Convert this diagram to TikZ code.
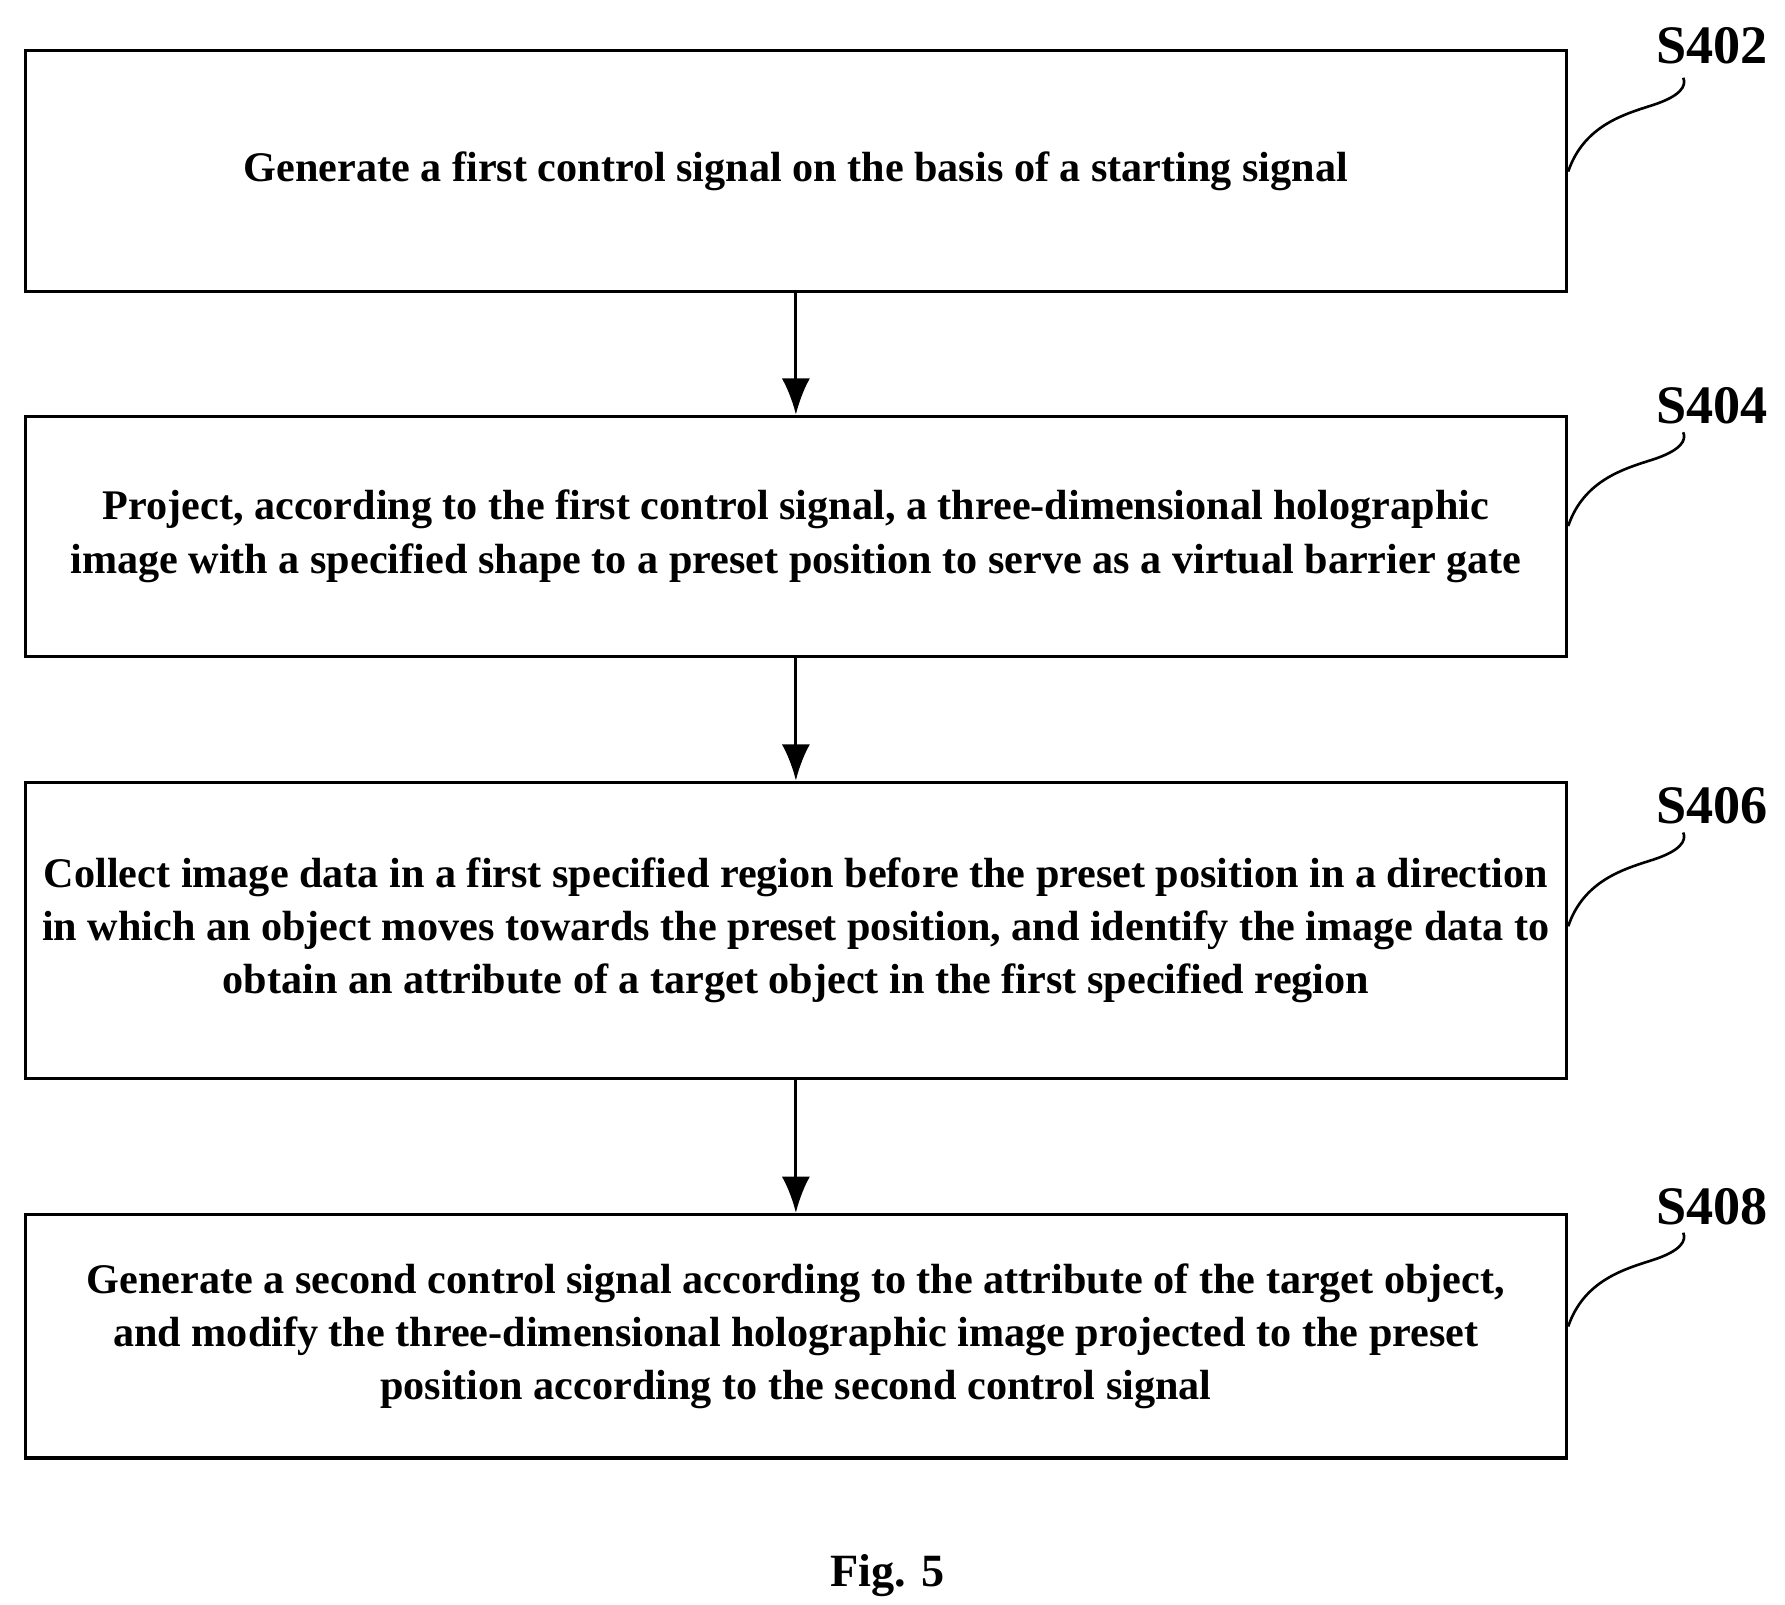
\documentclass[tikz,border=0pt]{standalone}
\usepackage{fontspec}
\setmainfont{Liberation Serif}
\begin{document}
\begin{tikzpicture}[x=0.02cm,y=-0.02cm,
 box/.style={draw,line width=1.6pt,minimum width=1348*0.02cm,align=center,font=\bfseries\fontsize{21}{26.5}\selectfont,inner sep=0pt},
 lab/.style={font=\bfseries\fontsize{27}{30}\selectfont},
 arr/.style={line width=1.6pt,-{Latex[length=18pt,width=14pt]}},
 sq/.style={line width=1.3pt}]
\usetikzlibrary{arrows.meta}
\useasboundingbox (0,0) rectangle (1561,1403);
\node[box,minimum height=211*0.02cm] (b1) at (696,149.5) {Generate a first control signal on the basis of a starting signal};
\node[box,minimum height=210*0.02cm] (b2) at (696,469) {Project, according to the first control signal, a three-dimensional holographic\\image with a specified shape to a preset position to serve as a virtual barrier gate};
\node[box,minimum height=259*0.02cm] (b3) at (696,813.5) {Collect image data in a first specified region before the preset position in a direction\\in which an object moves towards the preset position, and identify the image data to\\obtain an attribute of a target object in the first specified region};
\node[box,minimum height=213*0.02cm] (b4) at (696,1168.5) {Generate a second control signal according to the attribute of the target object,\\and modify the three-dimensional holographic image projected to the preset\\position according to the second control signal};
\draw[arr] (b1) -- (b2);
\draw[arr] (b2) -- (b3);
\draw[arr] (b3) -- (b4);
\foreach \n/\t/\y/\ly in {b1/S402/150/40, b2/S404/460/355, b3/S406/810/705, b4/S408/1160/1055}{
  \node[lab] (l\n) at (1497,\ly) {\t};
  \coordinate (c\n) at (\n.east |- 0,\y);
  \draw[sq] (c\n) .. controls (1385,\y-40) and (1420,\y-50) .. (1445,\y-58) .. controls (1470,\y-66) and (1475,\y-75) .. (1472,\y-82);
}
\node[font=\bfseries\fontsize{23}{26}\selectfont] (fig) at (776,1378) {Fig. 5};
\end{tikzpicture}
\end{document}
